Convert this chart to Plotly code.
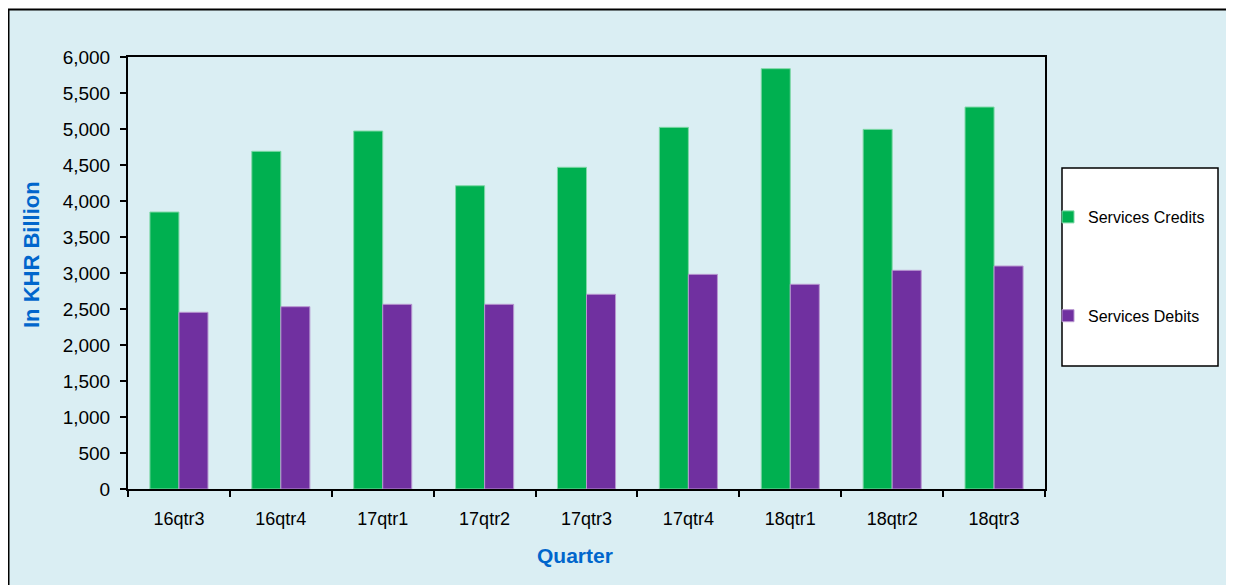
import plotly.graph_objects as go

quarters = ["16qtr3", "16qtr4", "17qtr1", "17qtr2", "17qtr3", "17qtr4", "18qtr1", "18qtr2", "18qtr3"]
credits = [3847, 4690, 4972, 4212, 4468, 5023, 5838, 4995, 5305]
debits = [2454, 2532, 2565, 2565, 2704, 2981, 2843, 3037, 3097]
y_ticks = list(range(0, 6001, 500))

OFF = 8  # page body margin
W, H = 1234 - OFF, 585 - OFF
L, T = 128 - OFF, 57 - OFF
pw, ph = 917, 432
R, B = W - L - pw, H - T - ph

def px_x(p):
    return (p - OFF - L) / pw

def px_y(p):
    return (T + ph - (p - OFF)) / ph

fig = go.Figure()
fig.add_trace(go.Bar(x=quarters, y=credits, name="Services Credits",
                     marker=dict(color="#00B050", line=dict(color="#7FD8A7", width=1)),
                     legendgroup="a"))
fig.add_trace(go.Bar(x=quarters, y=debits, name="Services Debits",
                     marker=dict(color="#7030A0", line=dict(color="#B897D0", width=1)),
                     legendgroup="b"))

fig.update_layout(
    width=W, height=H,
    margin=dict(l=L, r=R, t=T, b=B, autoexpand=False),
    paper_bgcolor="white",
    plot_bgcolor="white",
    barmode="group",
    bargap=0.43,
    bargroupgap=0,
    font=dict(family="Arial, Liberation Sans, sans-serif", size=18, color="black"),
    showlegend=True,
    legend=dict(x=px_x(1048), y=px_y(200), xanchor="left", yanchor="top",
                bgcolor="rgba(0,0,0,0)", borderwidth=0,
                font=dict(size=16, color="black"),
                tracegroupgap=75, itemwidth=30),
    xaxis=dict(showline=True, linecolor="black", linewidth=2, mirror=True,
               ticks="outside", tickson="boundaries", ticklen=6, tickcolor="black",
               tickwidth=2, showgrid=False, tickfont=dict(size=18),
               ticklabelstandoff=12),
    yaxis=dict(range=[0, 6000], tickvals=y_ticks, tickformat=",d",
               showline=True, linecolor="black", linewidth=2, mirror=True,
               ticks="outside", ticklen=6, tickcolor="black", tickwidth=2,
               showgrid=False, zeroline=False, tickfont=dict(size=19),
               ticklabelstandoff=6),
    shapes=[
        dict(type="rect", xref="paper", yref="paper",
             x0=px_x(8.5), x1=px_x(1250), y0=px_y(600), y1=px_y(9.5),
             fillcolor="#DAEEF3", line=dict(color="black", width=2), layer="below"),
        dict(type="rect", xref="paper", yref="paper",
             x0=px_x(1062), x1=px_x(1218), y0=px_y(366), y1=px_y(168),
             fillcolor="white", line=dict(color="black", width=1.5), layer="below"),
    ],
    annotations=[
        dict(text="<b>In KHR Billion</b>", xref="paper", yref="paper",
             x=px_x(31), y=px_y(255), xanchor="center", yanchor="middle",
             textangle=-90, showarrow=False,
             font=dict(size=22, color="#0066CC")),
        dict(text="<b>Quarter</b>", xref="paper", yref="paper",
             x=px_x(575), y=px_y(555), xanchor="center", yanchor="middle",
             showarrow=False,
             font=dict(size=21, color="#0066CC")),
    ],
)

fig.write_html("out.html")
